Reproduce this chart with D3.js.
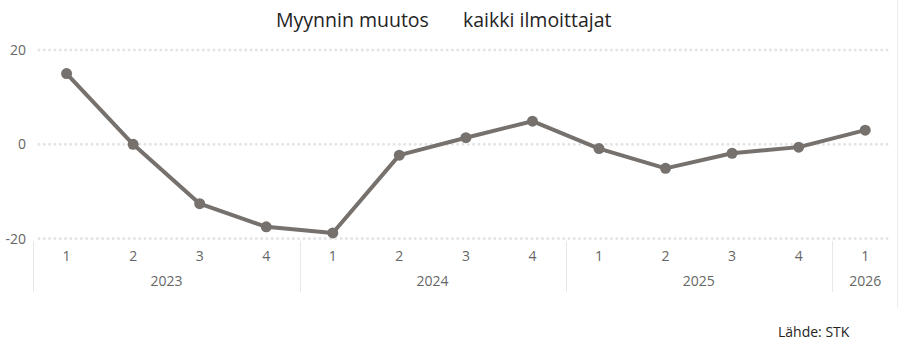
<!DOCTYPE html>
<html>
<head>
<meta charset="utf-8">
<script src="https://cdn.jsdelivr.net/npm/d3@7"></script>
<style>
  body { margin: 0; background: #fff; }
  text { font-family: "Open Sans", "Segoe UI", sans-serif; }
</style>
</head>
<body>
<div class="chart"></div>
<script>
// quarters and values (sales change, all reporters)
var years = ["2023", "2024", "2025", "2026"];
var quarters = ["1", "2", "3", "4", "1", "2", "3", "4", "1", "2", "3", "4", "1"];
var quarterYears = ["2023", "2023", "2023", "2023", "2024", "2024", "2024", "2024", "2025", "2025", "2025", "2025", "2026"];
var values = [15.0, 0.0, -12.6, -17.5, -18.8, -2.3, 1.4, 4.9, -0.9, -5.1, -1.9, -0.6, 3.0];
var yTicks = [-20, 0, 20];

var width = 899, height = 350;

var svg = d3.select(".chart")
  .append("svg")
  .attr("width", width)
  .attr("height", height);

var keys = values.map(function (d, i) { return i; });

// set the ranges
var x = d3.scaleBand().domain(keys).range([33.3, 898.5]).padding(0);
var y = d3.scaleLinear().domain([-20, 20]).range([238.6, 50]);

// title
svg.append("text")
  .attr("x", 276).attr("y", 27)
  .attr("font-family", "Roboto, sans-serif")
  .attr("font-size", 19.5)
  .attr("fill", "#252423")
  .text("Myynnin muutos");
svg.append("text")
  .attr("x", 463).attr("y", 27)
  .attr("font-family", "Roboto, sans-serif")
  .attr("font-size", 19.5)
  .attr("fill", "#252423")
  .text("kaikki ilmoittajat");

// right frame edge
svg.append("line")
  .attr("x1", 897.5).attr("x2", 897.5)
  .attr("y1", 0).attr("y2", 308)
  .attr("stroke", "#ececec");

// dotted gridlines
svg.append("g")
  .selectAll("line")
  .data(yTicks)
  .enter().append("line")
  .attr("x1", 39).attr("x2", 892)
  .attr("y1", function (d) { return y(d); })
  .attr("y2", function (d) { return y(d); })
  .attr("stroke", "#e4e4e4")
  .attr("stroke-width", 3)
  .attr("stroke-linecap", "round")
  .attr("stroke-dasharray", "0,5.3");

// Y axis labels
var yAxis = svg.append("g")
  .attr("transform", "translate(26,0)")
  .call(d3.axisLeft(y).tickValues(yTicks).tickSize(0).tickPadding(0)
    .tickFormat(function (d) { return String(d); }));
yAxis.select(".domain").remove();
yAxis.selectAll("text")
  .attr("font-family", "'Open Sans', sans-serif")
  .attr("font-size", 14)
  .attr("fill", "#666");

// X axis: quarter labels
var xAxis = svg.append("g")
  .attr("transform", "translate(0,251)")
  .call(d3.axisBottom(x).tickSize(0).tickPadding(0).tickFormat(function (i) { return quarters[i]; }));
xAxis.select(".domain").remove();
xAxis.selectAll("text")
  .attr("dy", "0.71em")
  .attr("font-family", "'Open Sans', sans-serif")
  .attr("font-size", 14)
  .attr("fill", "#666");

// year groups
var groups = years.map(function (yr) {
  var idx = keys.filter(function (i) { return quarterYears[i] === yr; });
  return { year: yr, start: x(idx[0]), end: x(idx[idx.length - 1]) + x.bandwidth() };
});

svg.append("g")
  .selectAll("line")
  .data(groups)
  .enter().append("line")
  .attr("x1", function (d) { return Math.round(d.start) + 0.5; })
  .attr("x2", function (d) { return Math.round(d.start) + 0.5; })
  .attr("y1", 241).attr("y2", 292)
  .attr("stroke", "#e8e8e8");

svg.append("g")
  .selectAll("text")
  .data(groups)
  .enter().append("text")
  .attr("x", function (d) { return (d.start + d.end) / 2; })
  .attr("y", 286)
  .attr("text-anchor", "middle")
  .attr("font-family", "'Open Sans', sans-serif")
  .attr("font-size", 14)
  .attr("fill", "#666")
  .text(function (d) { return d.year; });

// line
var valueline = d3.line()
  .x(function (d, i) { return x(i) + x.bandwidth() / 2; })
  .y(function (d) { return y(d); });

svg.append("path")
  .datum(values)
  .attr("fill", "none")
  .attr("stroke", "#76716d")
  .attr("stroke-width", 4)
  .attr("stroke-linejoin", "round")
  .attr("d", valueline);

svg.append("g")
  .selectAll("circle")
  .data(values)
  .enter().append("circle")
  .attr("cx", function (d, i) { return x(i) + x.bandwidth() / 2; })
  .attr("cy", function (d) { return y(d); })
  .attr("r", 5.5)
  .attr("fill", "#76716d");

// source
svg.append("text")
  .attr("x", 778).attr("y", 337)
  .attr("font-family", "'Open Sans', sans-serif")
  .attr("font-size", 14)
  .attr("fill", "#252423")
  .text("Lähde: STK");
</script>
</body>
</html>
